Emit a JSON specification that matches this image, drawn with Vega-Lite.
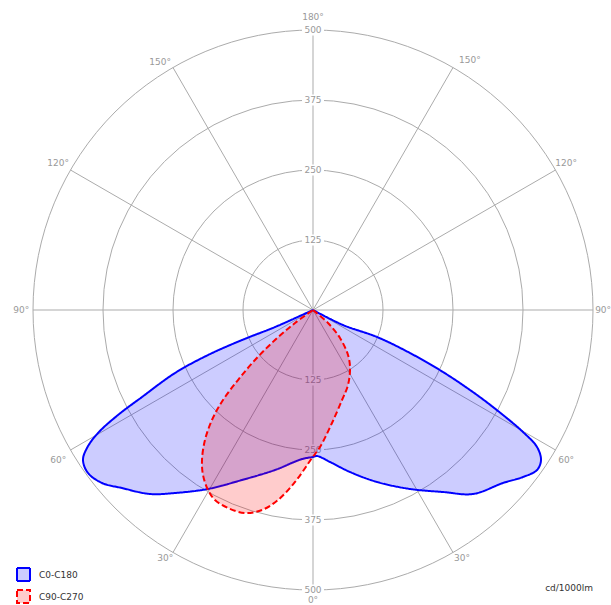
{
  "$schema": "https://vega.github.io/schema/vega-lite/v6.json",
  "width": 611,
  "height": 605,
  "padding": 0,
  "autosize": {"type": "none"},
  "background": "white",
  "config": {"view": {"stroke": null}, "font": "DejaVu Sans"},
  "datasets": {
    "spokes": [
      {"x1": 0, "y1": -500, "x2": 0, "y2": 500},
      {"x1": 250, "y1": -433, "x2": -250, "y2": 433},
      {"x1": 433, "y1": -250, "x2": -433, "y2": 250},
      {"x1": 500, "y1": 0, "x2": -500, "y2": 0},
      {"x1": 433, "y1": 250, "x2": -433, "y2": -250},
      {"x1": 250, "y1": 433, "x2": -250, "y2": -433}
    ],
    "circles": [{"r": 125}, {"r": 250}, {"r": 375}, {"r": 500}],
    "rlabels": [
      {"label": "125", "x": 0, "y": 125},
      {"label": "250", "x": 0, "y": 250},
      {"label": "375", "x": 0, "y": 375},
      {"label": "500", "x": 0, "y": 500},
      {"label": "125", "x": 0, "y": -125},
      {"label": "250", "x": 0, "y": -250},
      {"label": "375", "x": 0, "y": -375},
      {"label": "500", "x": 0, "y": -500}
    ],
    "alabels": [
      {"label": "0°", "x": 0, "y": -517},
      {"label": "180°", "x": 0, "y": 523},
      {"label": "30°", "x": -264, "y": -443},
      {"label": "30°", "x": 266, "y": -443},
      {"label": "60°", "x": -455, "y": -268},
      {"label": "60°", "x": 452, "y": -268},
      {"label": "90°", "x": -521, "y": 0},
      {"label": "90°", "x": 518, "y": 0},
      {"label": "120°", "x": -455, "y": 262},
      {"label": "120°", "x": 452, "y": 262},
      {"label": "150°", "x": -273, "y": 443},
      {"label": "150°", "x": 280, "y": 446}
    ],
    "units": [{"label": "cd/1000lm", "x": 500, "y": -496}],
    "curves": [
      {"s": "C0-C180", "i": 1, "x": 0, "y": 0},
      {"s": "C0-C180", "i": 2, "x": -67.9, "y": -30.4},
      {"s": "C0-C180", "i": 3, "x": -126.8, "y": -53.6},
      {"s": "C0-C180", "i": 4, "x": -187.5, "y": -80.4},
      {"s": "C0-C180", "i": 5, "x": -246.4, "y": -112.5},
      {"s": "C0-C180", "i": 6, "x": -305.4, "y": -155.4},
      {"s": "C0-C180", "i": 7, "x": -348.2, "y": -187.5},
      {"s": "C0-C180", "i": 8, "x": -383.9, "y": -219.6},
      {"s": "C0-C180", "i": 9, "x": -403.6, "y": -246.4},
      {"s": "C0-C180", "i": 10, "x": -410.7, "y": -267.9},
      {"s": "C0-C180", "i": 11, "x": -401.8, "y": -291.1},
      {"s": "C0-C180", "i": 12, "x": -376.8, "y": -308.9},
      {"s": "C0-C180", "i": 13, "x": -341.1, "y": -317.9},
      {"s": "C0-C180", "i": 14, "x": -291.1, "y": -328.6},
      {"s": "C0-C180", "i": 15, "x": -246.4, "y": -326.8},
      {"s": "C0-C180", "i": 16, "x": -187.5, "y": -319.6},
      {"s": "C0-C180", "i": 17, "x": -126.8, "y": -303.6},
      {"s": "C0-C180", "i": 18, "x": -67.9, "y": -285.7},
      {"s": "C0-C180", "i": 19, "x": -19.6, "y": -266.1},
      {"s": "C0-C180", "i": 20, "x": 0, "y": -262.5},
      {"s": "C0-C180", "i": 21, "x": 7.1, "y": -260.7},
      {"s": "C0-C180", "i": 22, "x": 30.4, "y": -271.4},
      {"s": "C0-C180", "i": 23, "x": 66.1, "y": -289.3},
      {"s": "C0-C180", "i": 24, "x": 114.3, "y": -307.1},
      {"s": "C0-C180", "i": 25, "x": 173.2, "y": -319.6},
      {"s": "C0-C180", "i": 26, "x": 232.1, "y": -325},
      {"s": "C0-C180", "i": 27, "x": 285.7, "y": -328.6},
      {"s": "C0-C180", "i": 28, "x": 339.3, "y": -308.9},
      {"s": "C0-C180", "i": 29, "x": 375, "y": -298.2},
      {"s": "C0-C180", "i": 30, "x": 400, "y": -285.7},
      {"s": "C0-C180", "i": 31, "x": 407.1, "y": -267.9},
      {"s": "C0-C180", "i": 32, "x": 400, "y": -244.6},
      {"s": "C0-C180", "i": 33, "x": 375, "y": -217.9},
      {"s": "C0-C180", "i": 34, "x": 339.3, "y": -187.5},
      {"s": "C0-C180", "i": 35, "x": 292.9, "y": -151.8},
      {"s": "C0-C180", "i": 36, "x": 232.1, "y": -110.7},
      {"s": "C0-C180", "i": 37, "x": 173.2, "y": -76.8},
      {"s": "C0-C180", "i": 38, "x": 114.3, "y": -48.2},
      {"s": "C0-C180", "i": 39, "x": 53.6, "y": -26.8},
      {"s": "C0-C180", "i": 40, "x": 0, "y": 0},
      {"s": "C90-C270", "i": 1, "x": 0, "y": 0},
      {"s": "C90-C270", "i": 2, "x": 26.8, "y": -23.2},
      {"s": "C90-C270", "i": 3, "x": 48.2, "y": -50},
      {"s": "C90-C270", "i": 4, "x": 62.5, "y": -80.4},
      {"s": "C90-C270", "i": 5, "x": 66.1, "y": -103.6},
      {"s": "C90-C270", "i": 6, "x": 62.5, "y": -133.9},
      {"s": "C90-C270", "i": 7, "x": 51.8, "y": -160.7},
      {"s": "C90-C270", "i": 8, "x": 33.9, "y": -201.8},
      {"s": "C90-C270", "i": 9, "x": 12.5, "y": -244.6},
      {"s": "C90-C270", "i": 10, "x": -1.8, "y": -264.3},
      {"s": "C90-C270", "i": 11, "x": -32.1, "y": -307.1},
      {"s": "C90-C270", "i": 12, "x": -62.5, "y": -339.3},
      {"s": "C90-C270", "i": 13, "x": -91.1, "y": -357.1},
      {"s": "C90-C270", "i": 14, "x": -121.4, "y": -362.5},
      {"s": "C90-C270", "i": 15, "x": -151.8, "y": -353.6},
      {"s": "C90-C270", "i": 16, "x": -175, "y": -339.3},
      {"s": "C90-C270", "i": 17, "x": -187.5, "y": -321.4},
      {"s": "C90-C270", "i": 18, "x": -196.4, "y": -294.6},
      {"s": "C90-C270", "i": 19, "x": -198.2, "y": -267.9},
      {"s": "C90-C270", "i": 20, "x": -192.9, "y": -232.1},
      {"s": "C90-C270", "i": 21, "x": -180.4, "y": -196.4},
      {"s": "C90-C270", "i": 22, "x": -160.7, "y": -160.7},
      {"s": "C90-C270", "i": 23, "x": -133.9, "y": -125},
      {"s": "C90-C270", "i": 24, "x": -103.6, "y": -89.3},
      {"s": "C90-C270", "i": 25, "x": -67.9, "y": -53.6},
      {"s": "C90-C270", "i": 26, "x": -32.1, "y": -23.2},
      {"s": "C90-C270", "i": 27, "x": 0, "y": 0}
    ]
  },
  "layer": [
    {
      "data": {"name": "spokes"},
      "mark": {"type": "rule", "color": "#ababab", "strokeWidth": 1},
      "encoding": {
        "x": {"field": "x1", "type": "quantitative", "scale": {"domain": [-558.9, 532.1], "nice": false, "zero": false}, "axis": null},
        "y": {"field": "y1", "type": "quantitative", "scale": {"domain": [-526.8, 553.6], "nice": false, "zero": false}, "axis": null},
        "x2": {"field": "x2"},
        "y2": {"field": "y2"}
      }
    },
    {
      "data": {"name": "circles"},
      "mark": {"type": "point", "shape": "circle", "filled": false, "stroke": "#ababab", "strokeWidth": 1, "opacity": 1},
      "encoding": {
        "x": {"datum": 0, "type": "quantitative", "scale": {"domain": [-558.9, 532.1], "nice": false, "zero": false}, "axis": null},
        "y": {"datum": 0, "type": "quantitative", "scale": {"domain": [-526.8, 553.6], "nice": false, "zero": false}, "axis": null},
        "size": {"field": "r", "type": "quantitative", "scale": {"type": "pow", "exponent": 2, "domain": [0, 500], "range": [0, 313600]}, "legend": null}
      }
    },
    {
      "data": {"name": "rlabels"},
      "mark": {"type": "point", "shape": "M-1,-0.5H1V0.5H-1Z", "filled": true, "fill": "white", "strokeWidth": 0, "size": 484, "opacity": 1},
      "encoding": {
        "x": {"field": "x", "type": "quantitative", "scale": {"domain": [-558.9, 532.1], "nice": false, "zero": false}, "axis": null},
        "y": {"field": "y", "type": "quantitative", "scale": {"domain": [-526.8, 553.6], "nice": false, "zero": false}, "axis": null}
      }
    },
    {
      "data": {"name": "rlabels"},
      "mark": {"type": "text", "fontSize": 9, "color": "#999999", "font": "DejaVu Sans", "baseline": "middle", "align": "center"},
      "encoding": {
        "x": {"field": "x", "type": "quantitative", "scale": {"domain": [-558.9, 532.1], "nice": false, "zero": false}, "axis": null},
        "y": {"field": "y", "type": "quantitative", "scale": {"domain": [-526.8, 553.6], "nice": false, "zero": false}, "axis": null},
        "text": {"field": "label"}
      }
    },
    {
      "data": {"name": "alabels"},
      "mark": {"type": "text", "fontSize": 9, "color": "#999999", "font": "DejaVu Sans", "baseline": "middle", "align": "center"},
      "encoding": {
        "x": {"field": "x", "type": "quantitative", "scale": {"domain": [-558.9, 532.1], "nice": false, "zero": false}, "axis": null},
        "y": {"field": "y", "type": "quantitative", "scale": {"domain": [-526.8, 553.6], "nice": false, "zero": false}, "axis": null},
        "text": {"field": "label"}
      }
    },
    {
      "data": {"name": "units"},
      "mark": {"type": "text", "fontSize": 9, "color": "#333333", "font": "DejaVu Sans", "baseline": "middle", "align": "right"},
      "encoding": {
        "x": {"field": "x", "type": "quantitative", "scale": {"domain": [-558.9, 532.1], "nice": false, "zero": false}, "axis": null},
        "y": {"field": "y", "type": "quantitative", "scale": {"domain": [-526.8, 553.6], "nice": false, "zero": false}, "axis": null},
        "text": {"field": "label"}
      }
    },
    {
      "data": {"name": "curves"},
      "mark": {"type": "line", "interpolate": "catmull-rom", "strokeWidth": 2, "fillOpacity": 1},
      "encoding": {
        "x": {"field": "x", "type": "quantitative", "scale": {"domain": [-558.9, 532.1], "nice": false, "zero": false}, "axis": null},
        "y": {"field": "y", "type": "quantitative", "scale": {"domain": [-526.8, 553.6], "nice": false, "zero": false}, "axis": null},
        "order": {"field": "i", "type": "quantitative"},
        "stroke": {"field": "s", "type": "nominal", "scale": {"domain": ["C0-C180", "C90-C270"], "range": ["#0000ff", "#ff0000"]},
          "legend": {"title": null, "orient": "none", "legendX": 16, "legendY": 567, "symbolType": "square", "symbolSize": 169, "symbolStrokeWidth": 2, "labelFont": "DejaVu Sans", "labelFontSize": 9, "labelColor": "#333333", "rowPadding": 1, "labelOffset": 8, "padding": 0}},
        "fill": {"field": "s", "type": "nominal", "scale": {"domain": ["C0-C180", "C90-C270"], "range": ["rgba(0,0,255,0.2)", "rgba(255,0,0,0.2)"]},
          "legend": {"title": null, "orient": "none", "legendX": 16, "legendY": 567, "symbolType": "square", "symbolSize": 169, "symbolStrokeWidth": 2, "labelFont": "DejaVu Sans", "labelFontSize": 9, "labelColor": "#333333", "rowPadding": 1, "labelOffset": 8, "padding": 0}},
        "strokeDash": {"field": "s", "type": "nominal", "scale": {"domain": ["C0-C180", "C90-C270"], "range": [[1, 0], [6, 3]]},
          "legend": {"title": null, "orient": "none", "legendX": 16, "legendY": 567, "symbolType": "square", "symbolSize": 169, "symbolStrokeWidth": 2, "labelFont": "DejaVu Sans", "labelFontSize": 9, "labelColor": "#333333", "rowPadding": 1, "labelOffset": 8, "padding": 0}}
      }
    }
  ]
}
